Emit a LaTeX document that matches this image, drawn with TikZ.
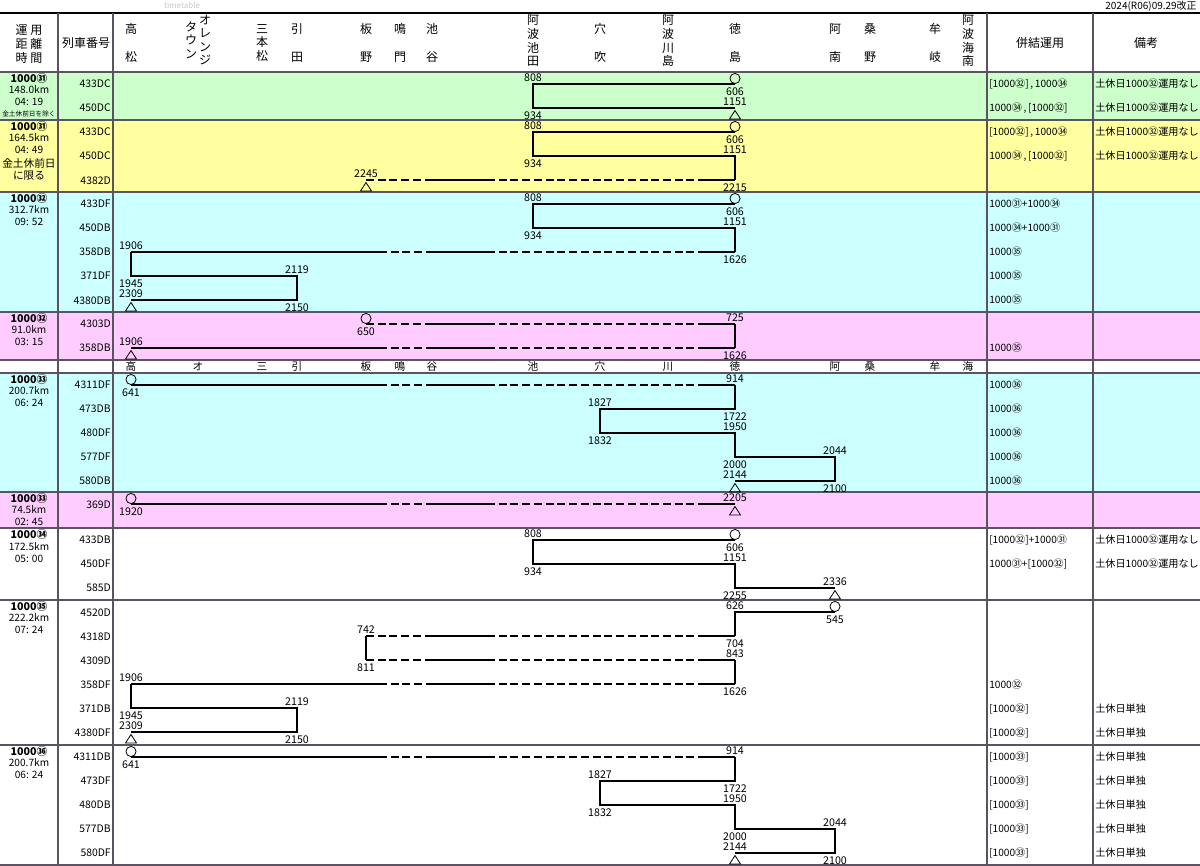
\documentclass[tikz,border=0pt]{standalone}
\usepackage{fontspec}
\setmainfont{Noto Sans CJK JP}
\definecolor{greenband}{RGB}{204, 255, 204}
\definecolor{yellowband}{RGB}{255, 255, 160}
\definecolor{cyanband}{RGB}{204, 255, 255}
\definecolor{pinkband}{RGB}{255, 204, 255}
\definecolor{gridline}{RGB}{90, 84, 96}

\tikzset{
  run/.style={line width=1.4pt},
  rundash/.style={line width=1.4pt, dash pattern=on 6pt off 2.8pt},
  mark line/.style={line width=0.6pt},
  tm/.style={font=\fontsize{8}{8.5}\selectfont, inner sep=0pt},
  trn/.style={font=\fontsize{7.8}{8}\selectfont, inner sep=0pt, anchor=east},
  hd/.style={font=\fontsize{9}{10.2}\selectfont, inner sep=0pt, align=center},
  subhd/.style={font=\fontsize{8}{8}\selectfont, inner sep=0pt},
  info/.style={font=\fontsize{7.6}{8}\selectfont, inner sep=0pt, anchor=west},
  grp/.style={font=\bfseries\fontsize{8}{8}\selectfont, inner sep=0pt},
  grpinfo/.style={font=\fontsize{7.6}{8}\selectfont, inner sep=0pt},
  rule/.style={draw=gridline, line width=1.1pt},
  thickrule/.style={draw=gridline, line width=1.6pt},
}

\newcounter{lab}
\newcommand{\tup}[3]{\stepcounter{lab}\node[tm] (t\arabic{lab}) at (#1,#2-6.5) {#3};}
\newcommand{\tdn}[3]{\stepcounter{lab}\node[tm] (t\arabic{lab}) at (#1,#2+7.5) {#3};}
\newcommand{\orig}[2]{\draw[mark line] (#1,#2-5.5) circle[radius=3.8pt];}
\newcommand{\term}[2]{\draw[mark line] (#1-5.5,#2+11) -- (#1+5.5,#2+11) -- (#1,#2+2.5) -- cycle;}
\newcommand{\trunk}[3]{%
  \draw[run] (#2,#1) -- (#3,#1);
  \draw[rundash] (#3,#1) -- (432,#1);
  \draw[run] (432,#1) -- (487,#1);
  \draw[rundash] (487,#1) -- (698,#1);
  \draw[run] (698,#1) -- (735,#1);}

\begin{document}
\begin{tikzpicture}[x=0.75pt, y=-0.75pt]
\useasboundingbox (0,0) rectangle (1200,866);
\fill[white] (0,0) rectangle (1200,866);
\fill[greenband] (0,72) rectangle (1200,120);
\fill[yellowband] (0,120) rectangle (1200,192);
\fill[cyanband] (0,192) rectangle (1200,312);
\fill[pinkband] (0,312) rectangle (1200,360);
\fill[cyanband] (0,373) rectangle (1200,492);
\fill[pinkband] (0,492) rectangle (1200,528);

\draw[line width=1.1pt] (0,13) -- (1200,13);
\draw[rule] (0,72) -- (1200,72);
\draw[rule] (0,120) -- (1200,120);
\draw[rule] (0,192) -- (1200,192);
\draw[rule] (0,312) -- (1200,312);
\draw[rule] (0,360) -- (1200,360);
\draw[rule] (0,373) -- (1200,373);
\draw[rule] (0,492) -- (1200,492);
\draw[rule] (0,528) -- (1200,528);
\draw[rule] (0,600) -- (1200,600);
\draw[rule] (0,745) -- (1200,745);
\draw[rule] (0,865) -- (1200,865);
\draw[rule] (58,13) -- (58,865);
\draw[thickrule] (113,13) -- (113,865);
\draw[thickrule] (987,13) -- (987,865);
\draw[rule] (1093,13) -- (1093,865);

\node[font=\fontsize{6}{6}\selectfont, text=black!22, inner sep=0pt] (watermark) at (182,5) {timetable};
\node[font=\fontsize{7.5}{7.5}\selectfont, inner sep=0pt, anchor=east] (revision) at (1197,6) {2024(R06)09.29改正};

\node[hd] (hUnyo) at (29,30) {運\hspace{2pt}用};
\node[hd] (hKyori) at (29,44) {距\hspace{2pt}離};
\node[hd] (hJikan) at (29,58) {時\hspace{2pt}間};
\node[hd] (hTrain) at (86,43) {列車番号};
\node[hd] (hTakamatsu) at (131,43) {高\\[10.8pt]松};
\node[hd] (hOrange) at (205,40) {オ\\レ\\ン\\ジ};
\node[hd] (hTown) at (191,40) {タ\\ウ\\ン};
\node[hd] (hSanbonmatsu) at (262,43) {三\\本\\松};
\node[hd] (hHiketa) at (297,43) {引\\[10.8pt]田};
\node[hd] (hItano) at (366,43) {板\\[10.8pt]野};
\node[hd] (hNaruto) at (400,43) {鳴\\[10.8pt]門};
\node[hd] (hIkenotani) at (432,43) {池\\[10.8pt]谷};
\node[hd] (hIkeda) at (533,41) {阿\\波\\池\\田};
\node[hd] (hAnabuki) at (600,43) {穴\\[10.8pt]吹};
\node[hd] (hKawashima) at (668,41) {阿\\波\\川\\島};
\node[hd] (hTokushima) at (735,43) {徳\\[10.8pt]島};
\node[hd] (hAnan) at (835,43) {阿\\[10.8pt]南};
\node[hd] (hKuwano) at (870,43) {桑\\[10.8pt]野};
\node[hd] (hMugi) at (935,43) {牟\\[10.8pt]岐};
\node[hd] (hKainan) at (968,41) {阿\\波\\海\\南};
\node[hd] (hCoupled) at (1040,43) {併結運用};
\node[hd] (hNote) at (1146,43) {備考};

\node[subhd] (sTakamatsu) at (131,366.5) {高};
\node[subhd] (sOrange) at (198,366.5) {オ};
\node[subhd] (sSanbonmatsu) at (262,366.5) {三};
\node[subhd] (sHiketa) at (297,366.5) {引};
\node[subhd] (sItano) at (366,366.5) {板};
\node[subhd] (sNaruto) at (400,366.5) {鳴};
\node[subhd] (sIkenotani) at (432,366.5) {谷};
\node[subhd] (sIkeda) at (533,366.5) {池};
\node[subhd] (sAnabuki) at (600,366.5) {穴};
\node[subhd] (sKawashima) at (668,366.5) {川};
\node[subhd] (sTokushima) at (735,366.5) {徳};
\node[subhd] (sAnan) at (835,366.5) {阿};
\node[subhd] (sKuwano) at (870,366.5) {桑};
\node[subhd] (sMugi) at (935,366.5) {牟};
\node[subhd] (sKainan) at (968,366.5) {海};

\node[grp] (g1n) at (29,78) {1000㉛};
\node[grpinfo] (g1k) at (29,90) {148.0km};
\node[grpinfo] (g1t) at (29,102) {04: 19};
\node[font=\fontsize{5}{5}\selectfont, inner sep=0pt] (g1c) at (29,114) {金土休前日を除く};
\node[grp] (g2n) at (29,126) {1000㉛};
\node[grpinfo] (g2k) at (29,138) {164.5km};
\node[grpinfo] (g2t) at (29,150) {04: 49};
\node[font=\fontsize{8}{8}\selectfont, inner sep=0pt] (g2c) at (29,163) {金土休前日};
\node[font=\fontsize{8}{8}\selectfont, inner sep=0pt] (g2d) at (29,176) {に限る};
\node[grp] (g3n) at (29,198) {1000㉜};
\node[grpinfo] (g3k) at (29,210) {312.7km};
\node[grpinfo] (g3t) at (29,222) {09: 52};
\node[grp] (g4n) at (29,318) {1000㉜};
\node[grpinfo] (g4k) at (29,330) {91.0km};
\node[grpinfo] (g4t) at (29,342) {03: 15};
\node[grp] (g5n) at (29,379) {1000㉝};
\node[grpinfo] (g5k) at (29,391) {200.7km};
\node[grpinfo] (g5t) at (29,403) {06: 24};
\node[grp] (g6n) at (29,498) {1000㉝};
\node[grpinfo] (g6k) at (29,510) {74.5km};
\node[grpinfo] (g6t) at (29,522) {02: 45};
\node[grp] (g7n) at (29,534) {1000㉞};
\node[grpinfo] (g7k) at (29,547) {172.5km};
\node[grpinfo] (g7t) at (29,559) {05: 00};
\node[grp] (g8n) at (29,606) {1000㉟};
\node[grpinfo] (g8k) at (29,618) {222.2km};
\node[grpinfo] (g8t) at (29,630) {07: 24};
\node[grp] (g9n) at (29,751) {1000㊱};
\node[grpinfo] (g9k) at (29,763) {200.7km};
\node[grpinfo] (g9t) at (29,775) {06: 24};

\node[trn] (tr11) at (111,84) {433DC};
\node[trn] (tr12) at (111,108) {450DC};
\node[trn] (tr21) at (111,132) {433DC};
\node[trn] (tr22) at (111,156) {450DC};
\node[trn] (tr23) at (111,181) {4382D};
\node[trn] (tr31) at (111,204) {433DF};
\node[trn] (tr32) at (111,228) {450DB};
\node[trn] (tr33) at (111,252) {358DB};
\node[trn] (tr34) at (111,276) {371DF};
\node[trn] (tr35) at (111,301) {4380DB};
\node[trn] (tr41) at (111,324) {4303D};
\node[trn] (tr42) at (111,348) {358DB};
\node[trn] (tr51) at (111,385) {4311DF};
\node[trn] (tr52) at (111,409) {473DB};
\node[trn] (tr53) at (111,433) {480DF};
\node[trn] (tr54) at (111,457) {577DF};
\node[trn] (tr55) at (111,481) {580DB};
\node[trn] (tr61) at (111,505) {369D};
\node[trn] (tr71) at (111,540) {433DB};
\node[trn] (tr72) at (111,564) {450DF};
\node[trn] (tr73) at (111,588) {585D};
\node[trn] (tr81) at (111,613) {4520D};
\node[trn] (tr82) at (111,637) {4318D};
\node[trn] (tr83) at (111,661) {4309D};
\node[trn] (tr84) at (111,685) {358DF};
\node[trn] (tr85) at (111,709) {371DB};
\node[trn] (tr86) at (111,733) {4380DF};
\node[trn] (tr91) at (111,757) {4311DB};
\node[trn] (tr92) at (111,781) {473DF};
\node[trn] (tr93) at (111,805) {480DB};
\node[trn] (tr94) at (111,829) {577DB};
\node[trn] (tr95) at (111,853) {580DF};

\draw[run] (735,84) -- (533,84) -- (533,108) -- (735,108);
\tup{533}{84}{808} \orig{735}{84} \tdn{735}{84}{606}
\tup{735}{108}{1151} \tdn{533}{108}{934} \term{735}{108}

\draw[run] (735,132) -- (533,132) -- (533,156) -- (735,156) -- (735,180);
\trunk{180}{366}{366}
\tup{533}{132}{808} \orig{735}{132} \tdn{735}{132}{606}
\tup{735}{156}{1151} \tdn{533}{156}{934}
\tup{366}{180}{2245} \term{366}{180} \tdn{735}{180}{2215}

\draw[run] (735,204) -- (533,204) -- (533,228) -- (735,228) -- (735,252);
\trunk{252}{131}{379}
\draw[run] (131,252) -- (131,276) -- (297,276) -- (297,300) -- (131,300);
\tup{533}{204}{808} \orig{735}{204} \tdn{735}{204}{606}
\tup{735}{228}{1151} \tdn{533}{228}{934}
\tup{131}{252}{1906} \tdn{735}{252}{1626}
\tup{297}{276}{2119} \tdn{131}{276}{1945}
\tup{131}{300}{2309} \term{131}{300} \tdn{297}{300}{2150}

\trunk{324}{366}{366}
\draw[run] (735,324) -- (735,348);
\trunk{348}{131}{379}
\orig{366}{324} \tdn{366}{324}{650} \tup{735}{324}{725}
\tup{131}{348}{1906} \term{131}{348} \tdn{735}{348}{1626}

\trunk{385}{131}{379}
\draw[run] (735,385) -- (735,409) -- (600,409) -- (600,433) -- (735,433) -- (735,457) -- (835,457) -- (835,481) -- (735,481);
\orig{131}{385} \tdn{131}{385}{641} \tup{735}{385}{914}
\tup{600}{409}{1827} \tdn{735}{409}{1722}
\tup{735}{433}{1950} \tdn{600}{433}{1832}
\tup{835}{457}{2044} \tdn{735}{457}{2000}
\tup{735}{481}{2144} \term{735}{481} \tdn{835}{481}{2100}

\trunk{504}{131}{379}
\orig{131}{504} \tdn{131}{504}{1920} \tup{735}{504}{2205} \term{735}{504}

\draw[run] (735,540) -- (533,540) -- (533,564) -- (735,564) -- (735,588) -- (835,588);
\tup{533}{540}{808} \orig{735}{540} \tdn{735}{540}{606}
\tup{735}{564}{1151} \tdn{533}{564}{934}
\tup{835}{588}{2336} \term{835}{588} \tdn{735}{588}{2255}

\draw[run] (835,612) -- (735,612) -- (735,636);
\trunk{636}{366}{366}
\draw[run] (366,636) -- (366,660);
\trunk{660}{366}{366}
\draw[run] (735,660) -- (735,684);
\trunk{684}{131}{379}
\draw[run] (131,684) -- (131,708) -- (297,708) -- (297,732) -- (131,732);
\tup{735}{612}{626} \orig{835}{612} \tdn{835}{612}{545}
\tup{366}{636}{742} \tdn{735}{636}{704}
\tup{735}{660}{843} \tdn{366}{660}{811}
\tup{131}{684}{1906} \tdn{735}{684}{1626}
\tup{297}{708}{2119} \tdn{131}{708}{1945}
\tup{131}{732}{2309} \term{131}{732} \tdn{297}{732}{2150}

\trunk{757}{131}{379}
\draw[run] (735,757) -- (735,781) -- (600,781) -- (600,805) -- (735,805) -- (735,829) -- (835,829) -- (835,853) -- (735,853);
\orig{131}{757} \tdn{131}{757}{641} \tup{735}{757}{914}
\tup{600}{781}{1827} \tdn{735}{781}{1722}
\tup{735}{805}{1950} \tdn{600}{805}{1832}
\tup{835}{829}{2044} \tdn{735}{829}{2000}
\tup{735}{853}{2144} \term{735}{853} \tdn{835}{853}{2100}

\node[info] (c11) at (989,84) {[1000㉜]\,,\,1000㉞};
\node[info] (c12) at (989,108) {1000㉞\,,\,[1000㉜]};
\node[info] (c21) at (989,132) {[1000㉜]\,,\,1000㉞};
\node[info] (c22) at (989,156) {1000㉞\,,\,[1000㉜]};
\node[info] (c31) at (989,204) {1000㉛+1000㉞};
\node[info] (c32) at (989,228) {1000㉞+1000㉛};
\node[info] (c33) at (989,252) {1000㉟};
\node[info] (c34) at (989,276) {1000㉟};
\node[info] (c35) at (989,300) {1000㉟};
\node[info] (c42) at (989,348) {1000㉟};
\node[info] (c51) at (989,385) {1000㊱};
\node[info] (c52) at (989,409) {1000㊱};
\node[info] (c53) at (989,433) {1000㊱};
\node[info] (c54) at (989,457) {1000㊱};
\node[info] (c55) at (989,481) {1000㊱};
\node[info] (c71) at (989,540) {[1000㉜]+1000㉛};
\node[info] (c72) at (989,564) {1000㉛+[1000㉜]};
\node[info] (c84) at (989,685) {1000㉜};
\node[info] (c85) at (989,709) {[1000㉜]};
\node[info] (c86) at (989,733) {[1000㉜]};
\node[info] (c91) at (989,757) {[1000㉝]};
\node[info] (c92) at (989,781) {[1000㉝]};
\node[info] (c93) at (989,805) {[1000㉝]};
\node[info] (c94) at (989,829) {[1000㉝]};
\node[info] (c95) at (989,853) {[1000㉝]};

\node[info] (n11) at (1095,84) {土休日1000㉜運用なし};
\node[info] (n12) at (1095,108) {土休日1000㉜運用なし};
\node[info] (n21) at (1095,132) {土休日1000㉜運用なし};
\node[info] (n22) at (1095,156) {土休日1000㉜運用なし};
\node[info] (n71) at (1095,540) {土休日1000㉜運用なし};
\node[info] (n72) at (1095,564) {土休日1000㉜運用なし};
\node[info] (n85) at (1095,709) {土休日単独};
\node[info] (n86) at (1095,733) {土休日単独};
\node[info] (n91) at (1095,757) {土休日単独};
\node[info] (n92) at (1095,781) {土休日単独};
\node[info] (n93) at (1095,805) {土休日単独};
\node[info] (n94) at (1095,829) {土休日単独};
\node[info] (n95) at (1095,853) {土休日単独};
\end{tikzpicture}
\end{document}
